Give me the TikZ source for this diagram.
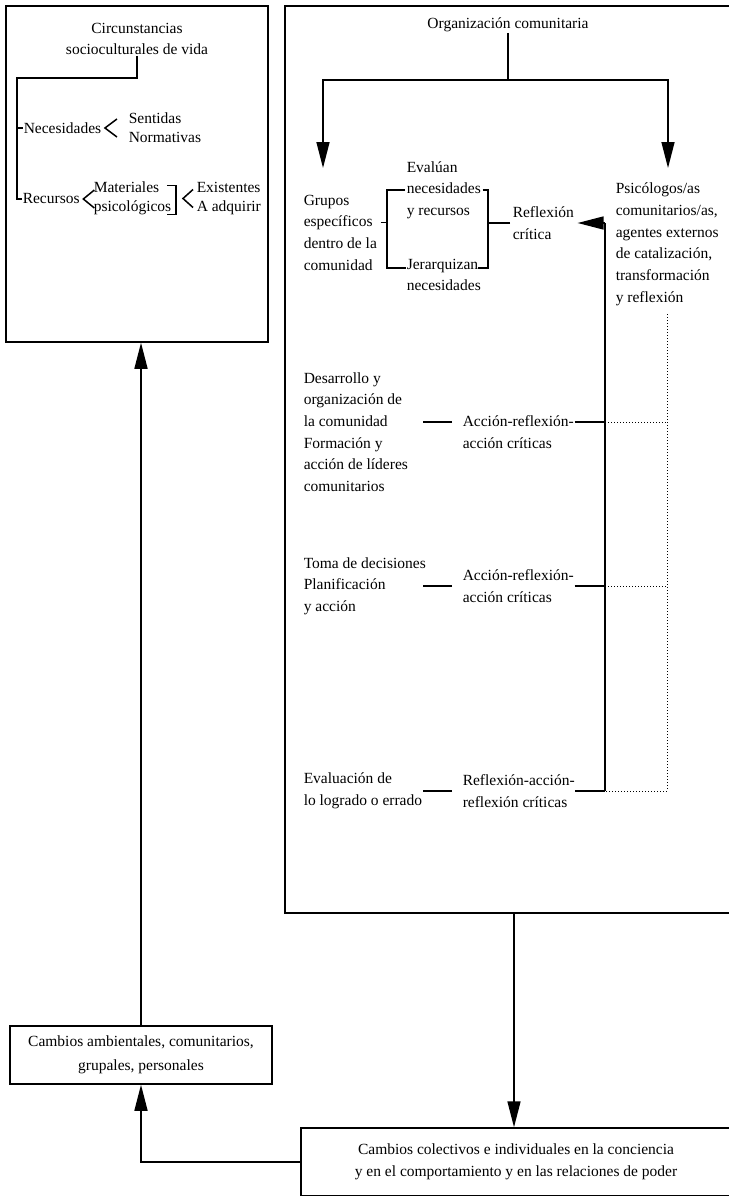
\documentclass[tikz,border=0pt]{standalone}
\usepackage{fontspec}
\setmainfont{Liberation Serif}
\usetikzlibrary{arrows.meta,positioning}
\tikzset{
  txt/.style={font=\fontsize{15.5}{21.7}\selectfont, inner sep=0pt, align=left},
  ctxt/.style={txt, align=center},
  sub/.style={font=\fontsize{15.5}{18.5}\selectfont, inner sep=0pt, align=left},
  box/.style={draw, inner sep=0pt},
  arr/.style={-{Triangle[length=26pt,width=13pt]}}
}
\begin{document}
\begin{tikzpicture}[x=1pt,y=-1pt,line width=1.5pt]
\useasboundingbox (0,0) rectangle (728,1196);
\node[box, minimum width=262pt, minimum height=336pt] (circbox) at (137,174) {};
\node[box, minimum width=458pt, minimum height=907pt] (orgbox) at (514,459.5) {};
\node[box, ctxt, font=\fontsize{15.5}{24}\selectfont, minimum width=262pt, minimum height=58pt] (amb) at (141,1055) {Cambios ambientales, comunitarios,\\grupales, personales};
\node[box, ctxt, minimum width=430pt, minimum height=68pt] (colect) at (516,1162) {Cambios colectivos e individuales en la conciencia\\y en el comportamiento y en las relaciones de poder};

\node[ctxt] (circ) at (137,39) {Circunstancias\\socioculturales de vida};
\node[txt, anchor=west] (nec) at (23,128) {Necesidades};
\node[sub, anchor=west] (necsub) at (128,127.5) {Sentidas\\Normativas};
\node[txt, anchor=west] (rec) at (22,199) {Recursos};
\node[sub, anchor=west] (recsub) at (93,198.5) {Materiales\\psicológicos};
\node[sub, anchor=west] (recfin) at (196,198.5) {Existentes\\A adquirir};
\coordinate (lt) at (17,78);
\draw (circ.south) |- (lt) |- (rec.west);
\draw (lt |- nec.west) -- (nec.west);
\draw ([xshift=15pt,yshift=9pt]nec.east) -- ([xshift=3pt]nec.east) -- ([xshift=15pt,yshift=-9pt]nec.east);
\draw ([xshift=14pt,yshift=9pt]rec.east) -- ([xshift=3pt]rec.east) -- ([xshift=14pt,yshift=-9pt]rec.east);
\draw ([xshift=-5pt,yshift=13pt]recsub.east) -- ++(9,0) -- ++(0,29) -- ++(-9,0);
\draw ([xshift=-3pt,yshift=9pt]recfin.west) -- ([xshift=-13pt]recfin.west) -- ([xshift=-3pt,yshift=-9pt]recfin.west);

\node[ctxt] (org) at (508,25) {Organización comunitaria};
\coordinate (split) at (508,80);
\coordinate (gtop) at (323,168);
\coordinate (ptop) at (668,168);
\draw (org.south) -- (split);
\draw[arr] (split) -| (gtop);
\draw[arr] (split) -| (ptop);
\node[txt, anchor=west] (grupos) at (303,232.5) {Grupos\\específicos\\dentro de la\\comunidad};
\node[txt, anchor=west] (psic) at (615,244.2) {Psicólogos/as\\comunitarios/as,\\agentes externos\\de catalización,\\transformación\\y reflexión};
\node[txt, anchor=west] (eval) at (406,190) {Evalúan\\necesidades\\y recursos};
\node[txt, anchor=west] (jer) at (406,275) {Jerarquizan\\necesidades};
\node[txt, anchor=west] (refl) at (512,223) {Reflexión\\crítica};
\coordinate (bl1) at (387,190);
\coordinate (bl2) at (387,268);
\coordinate (br1) at (488,190);
\coordinate (br2) at (488,268);
\coordinate (gt) at ([xshift=3pt,yshift=10pt]grupos.east);
\draw ([xshift=-1pt]eval.west) -- (bl1) -- (bl2) -- (jer.west |- bl2);
\draw ([xshift=1pt]eval.east) -- (br1) -- (br2) -- ([xshift=-10pt]br2);
\draw (gt) -- (gt -| bl1);
\draw ([xshift=-2pt]refl.west) -- (refl.west -| br1);
\coordinate (vtop) at (605,223);
\draw[arr] (vtop) -- ([xshift=3pt]refl.east);

\node[txt, anchor=west] (des) at (303,432) {Desarrollo y\\organización de\\la comunidad\\Formación y\\acción de líderes\\comunitarios};
\node[txt, anchor=west] (acc1) at (462,432) {Acción-reflexión-\\acción críticas};
\node[txt, anchor=west] (toma) at (303,586) {Toma de decisiones\\Planificación\\y acción};
\node[txt, anchor=west] (acc2) at (462,586) {Acción-reflexión-\\acción críticas};
\node[txt, anchor=west] (evl) at (303,791) {Evaluación de\\lo logrado o errado};
\node[txt, anchor=west] (refl2) at (462,791) {Reflexión-acción-\\reflexión críticas};
\draw ([xshift=-10pt,yshift=10pt]acc1.west) -- ([xshift=-39pt,yshift=10pt]acc1.west);
\draw ([xshift=-10pt]acc2.west) -- ([xshift=-39pt]acc2.west);
\draw ([xshift=-10pt]refl2.west) -- ([xshift=-39pt]refl2.west);
\draw ([yshift=10pt]acc1.east) -- ([yshift=10pt]acc1.east -| vtop);
\draw (acc2.east) -- (acc2.east -| vtop);
\draw (refl2.east) -- (refl2.east -| vtop);
\draw (vtop) -- (vtop |- refl2.east);
\draw[dotted, line width=1pt] ([yshift=10pt]acc1.east -| vtop) -- ([yshift=10pt]acc1.east -| psic.south);
\draw[dotted, line width=1pt] (acc2.east -| vtop) -- (acc2.east -| psic.south);
\draw[dotted, line width=1pt] ([yshift=-8pt]psic.south) -- (psic.south |- refl2.east) -- (refl2.east -| vtop);

\draw[arr] (orgbox.south) -- (orgbox.south |- colect.north);
\draw[arr] (colect.west) -| (amb.south);
\draw[arr] (amb.north) -- (amb.north |- circbox.south);
\end{tikzpicture}
\end{document}
